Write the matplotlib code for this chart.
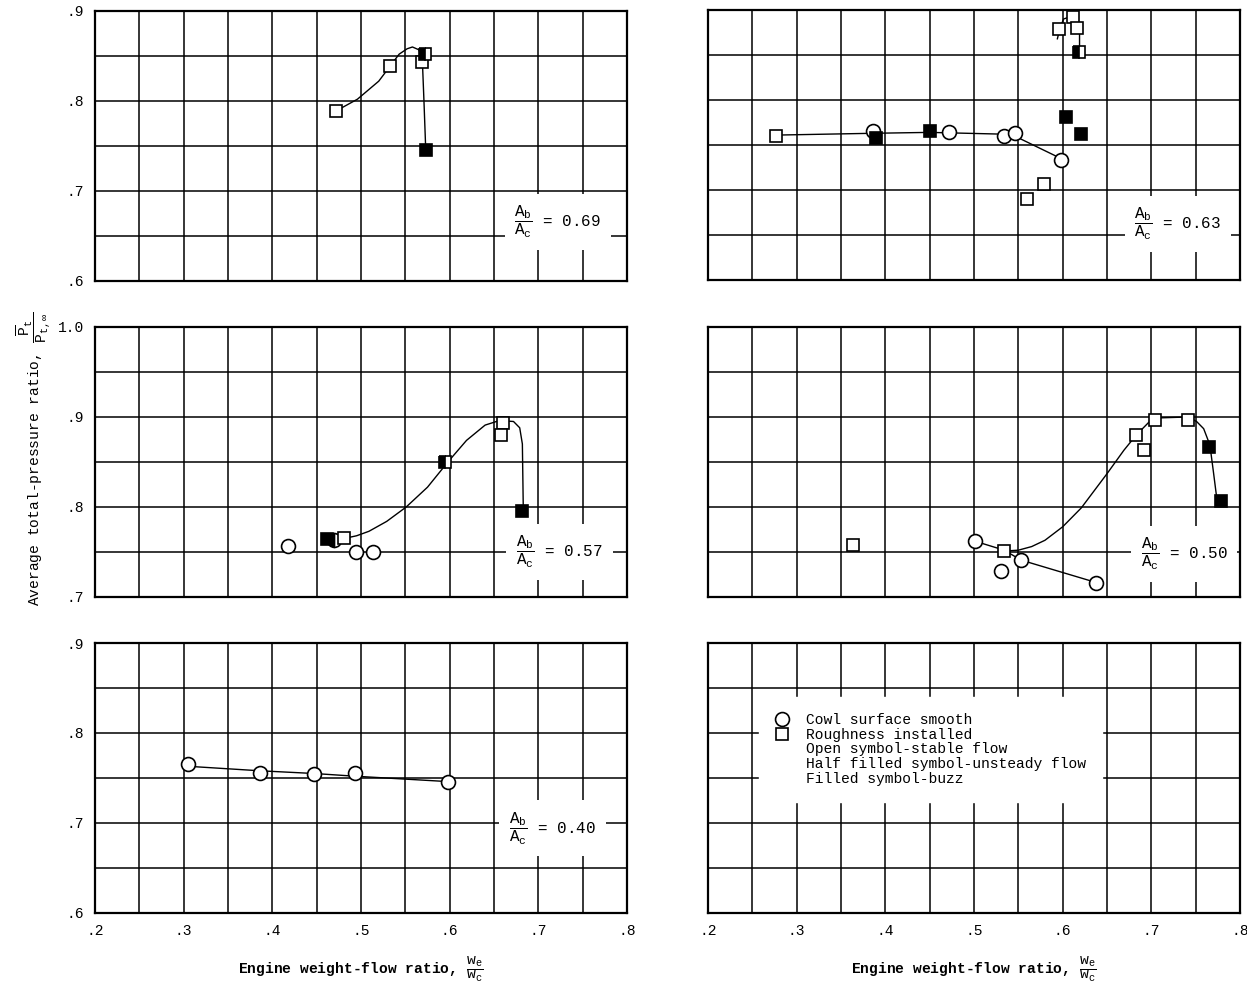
import matplotlib
matplotlib.use('Agg')
import matplotlib.pyplot as plt
from matplotlib.ticker import MultipleLocator, FuncFormatter
from matplotlib.lines import Line2D

plt.rcParams['font.family'] = ['Liberation Mono', 'DejaVu Sans Mono']
plt.rcParams['mathtext.fontset'] = 'custom'
plt.rcParams['mathtext.rm'] = 'Liberation Mono'
plt.rcParams['mathtext.it'] = 'Liberation Mono:italic'
plt.rcParams['mathtext.bf'] = 'Liberation Mono:bold'

# ---- data ----
# Ab/Ac = 0.69 (roughness only)
p69_sq_x = [0.472, 0.533, 0.569, 0.572, 0.573]
p69_sq_y = [0.789, 0.839, 0.843, 0.852, 0.746]
p69_sq_kind = ['open', 'open', 'open', 'half', 'filled']
p69_fair_x = [0.472, 0.496, 0.520, 0.533, 0.543, 0.552, 0.558, 0.565, 0.569, 0.571, 0.573]
p69_fair_y = [0.789, 0.802, 0.822, 0.839, 0.852, 0.858, 0.860, 0.857, 0.850, 0.800, 0.746]

# Ab/Ac = 0.63
p63_ci_x = [0.386, 0.472, 0.534, 0.546, 0.598]
p63_ci_y = [0.766, 0.764, 0.760, 0.763, 0.733]
p63_ci_kind = ['open', 'open', 'open', 'open', 'open']
p63_sq_x = [0.277, 0.389, 0.450, 0.560, 0.579, 0.596, 0.612, 0.616, 0.618, 0.604, 0.621]
p63_sq_y = [0.760, 0.758, 0.766, 0.690, 0.707, 0.879, 0.892, 0.880, 0.853, 0.781, 0.762]
p63_sq_kind = ['open', 'filled', 'filled', 'open', 'open', 'open', 'open', 'open',
               'half', 'filled', 'filled']
p63_fair_x = [0.277, 0.386, 0.450, 0.534, 0.552, 0.598]
p63_fair_y = [0.761, 0.763, 0.764, 0.762, 0.757, 0.735]
p63_top_x = [0.594, 0.597, 0.601, 0.610, 0.616, 0.619, 0.619]
p63_top_y = [0.868, 0.880, 0.890, 0.893, 0.885, 0.875, 0.855]

# Ab/Ac = 0.57
p57_ci_x = [0.418, 0.470, 0.494, 0.513]
p57_ci_y = [0.757, 0.763, 0.750, 0.750]
p57_ci_kind = ['open', 'half', 'open', 'open']
p57_sq_x = [0.462, 0.481, 0.595, 0.660, 0.658, 0.682]
p57_sq_y = [0.764, 0.765, 0.850, 0.893, 0.880, 0.796]
p57_sq_kind = ['filled', 'open', 'half', 'open', 'open', 'filled']
p57_fair_x = [0.481, 0.495, 0.509, 0.529, 0.551, 0.575, 0.598, 0.619, 0.640,
              0.656, 0.672, 0.679, 0.682, 0.683]
p57_fair_y = [0.765, 0.768, 0.773, 0.784, 0.800, 0.822, 0.850, 0.874, 0.891,
              0.896, 0.895, 0.888, 0.870, 0.800]

# Ab/Ac = 0.50
p50_ci_x = [0.501, 0.530, 0.553, 0.638]
p50_ci_y = [0.762, 0.729, 0.741, 0.715]
p50_ci_kind = ['open', 'open', 'open', 'open']
p50_sq_x = [0.364, 0.534, 0.683, 0.692, 0.704, 0.741, 0.765, 0.779]
p50_sq_y = [0.758, 0.751, 0.880, 0.863, 0.897, 0.897, 0.867, 0.807]
p50_sq_kind = ['open', 'open', 'open', 'open', 'open', 'open', 'filled', 'filled']
p50_ciline_x = [0.501, 0.534, 0.553, 0.638]
p50_ciline_y = [0.762, 0.752, 0.741, 0.716]
p50_fair_x = [0.534, 0.550, 0.565, 0.580, 0.600, 0.621, 0.650, 0.669, 0.683, 0.697,
              0.709, 0.741, 0.751, 0.759, 0.766, 0.770, 0.774]
p50_fair_y = [0.751, 0.752, 0.756, 0.763, 0.778, 0.799, 0.837, 0.863, 0.880, 0.894,
              0.899, 0.900, 0.895, 0.887, 0.869, 0.839, 0.808]

# Ab/Ac = 0.40 (smooth cowl only)
p40_ci_x = [0.305, 0.386, 0.447, 0.493, 0.598]
p40_ci_y = [0.765, 0.756, 0.754, 0.756, 0.745]
p40_ci_kind = ['open', 'open', 'open', 'open', 'open']
p40_fair_x = [0.305, 0.386, 0.447, 0.493, 0.598]
p40_fair_y = [0.763, 0.758, 0.755, 0.752, 0.746]

ratios = ['0.69', '0.63', '0.57', '0.50', '0.40']

legend_labels = ['Cowl surface smooth', 'Roughness installed',
                 'Open symbol-stable flow', 'Half filled symbol-unsteady flow',
                 'Filled symbol-buzz']

# marker fill per flow state
STYLE = {'open': dict(mfc='white'),
         'half': dict(mfc='black', mfcalt='white', fillstyle='left'),
         'filled': dict(mfc='black')}


def tick_fmt(v, pos):
    s = '%.1f' % v
    return s if v >= 0.999 else s[1:]


def setup(ax, ylo, show_x, show_y):
    """Grid paper look: grid every .05, labels every .1."""
    ax.set_xlim(0.2, 0.8)
    ax.set_ylim(ylo, ylo + 0.3)
    ax.xaxis.set_major_locator(MultipleLocator(0.1))
    ax.xaxis.set_minor_locator(MultipleLocator(0.05))
    ax.yaxis.set_major_locator(MultipleLocator(0.1))
    ax.yaxis.set_minor_locator(MultipleLocator(0.05))
    ax.xaxis.set_major_formatter(FuncFormatter(tick_fmt))
    ax.yaxis.set_major_formatter(FuncFormatter(tick_fmt))
    ax.grid(which='both', color='black', linewidth=1.1)
    ax.set_axisbelow(True)
    ax.tick_params(which='both', length=0, labelsize=10.5, pad=8,
                   labelbottom=show_x, labelleft=show_y)
    for spine in ax.spines.values():
        spine.set_linewidth(1.6)


def draw_points(ax, xs, ys, kinds, marker, ms):
    for x, y, k in zip(xs, ys, kinds):
        ax.plot([x], [y], ls='none', marker=marker, ms=ms, mec='black',
                mew=1.2, zorder=4, **STYLE[k])


def ratio_label(ax, x, y, ratio):
    ax.text(x, y, r'$\dfrac{\mathrm{A_b}}{\mathrm{A_c}}$ = ' + ratio,
            ha='center', va='center', fontsize=11.5, zorder=3,
            bbox=dict(facecolor='white', edgecolor='none', pad=7))


fig = plt.figure(figsize=(12.47, 9.9), dpi=100)
fig.patch.set_facecolor('white')

lx, rx, w, h = 0.0762, 0.5678, 0.4266, 0.2727
ax69 = fig.add_axes([lx, 0.7162, w, h])
ax63 = fig.add_axes([rx, 0.7172, w, h])
ax57 = fig.add_axes([lx, 0.3970, w, h])
ax50 = fig.add_axes([rx, 0.3970, w, h])
ax40 = fig.add_axes([lx, 0.0778, w, h])
axlg = fig.add_axes([rx, 0.0778, w, h])

setup(ax69, 0.6, False, True)
setup(ax63, 0.6, False, False)
setup(ax57, 0.7, False, True)
setup(ax50, 0.7, False, False)
setup(ax40, 0.6, True, True)
setup(axlg, 0.6, True, False)

# top left: 0.69
ax69.plot(p69_fair_x, p69_fair_y, color='black', lw=1.0, zorder=2)
draw_points(ax69, p69_sq_x, p69_sq_y, p69_sq_kind, 's', 9)
ratio_label(ax69, 0.722, 0.666, ratios[0])

# top right: 0.63
ax63.plot(p63_fair_x, p63_fair_y, color='black', lw=1.0, zorder=2)
ax63.plot(p63_top_x, p63_top_y, color='black', lw=1.0, zorder=2)
draw_points(ax63, p63_ci_x, p63_ci_y, p63_ci_kind, 'o', 10)
draw_points(ax63, p63_sq_x, p63_sq_y, p63_sq_kind, 's', 9)
ratio_label(ax63, 0.730, 0.662, ratios[1])

# middle left: 0.57
ax57.plot(p57_fair_x, p57_fair_y, color='black', lw=1.0, zorder=2)
draw_points(ax57, p57_ci_x, p57_ci_y, p57_ci_kind, 'o', 10)
draw_points(ax57, p57_sq_x, p57_sq_y, p57_sq_kind, 's', 9)
ratio_label(ax57, 0.724, 0.750, ratios[2])

# middle right: 0.50
ax50.plot(p50_ciline_x, p50_ciline_y, color='black', lw=1.0, zorder=2)
ax50.plot(p50_fair_x, p50_fair_y, color='black', lw=1.0, zorder=2)
draw_points(ax50, p50_ci_x, p50_ci_y, p50_ci_kind, 'o', 10)
draw_points(ax50, p50_sq_x, p50_sq_y, p50_sq_kind, 's', 9)
ratio_label(ax50, 0.737, 0.748, ratios[3])

# bottom left: 0.40
ax40.plot(p40_fair_x, p40_fair_y, color='black', lw=1.0, zorder=2)
draw_points(ax40, p40_ci_x, p40_ci_y, p40_ci_kind, 'o', 10)
ratio_label(ax40, 0.716, 0.694, ratios[4])

# bottom right: symbol key
handles = [Line2D([], [], ls='none', marker='o', ms=10, mfc='white', mec='black', mew=1.2),
           Line2D([], [], ls='none', marker='s', ms=9, mfc='white', mec='black', mew=1.2)]
handles += [Line2D([], [], ls='none') for _ in legend_labels[2:]]
leg = axlg.legend(handles, legend_labels, loc='upper left',
                  bbox_to_anchor=(0.096, 0.80), borderaxespad=0,
                  fontsize=10.5, labelspacing=0.05, handlelength=1.0,
                  handletextpad=1.1, borderpad=1.1, fancybox=False,
                  framealpha=1, facecolor='white', edgecolor='white')

# axis titles
xlab = r'Engine weight-flow ratio, $\dfrac{\mathrm{w_e}}{\mathrm{w_c}}$'
ax40.set_xlabel(xlab, fontsize=10.5, fontweight='bold', labelpad=12)
axlg.set_xlabel(xlab, fontsize=10.5, fontweight='bold', labelpad=12)
fig.text(0.027, 0.537,
         r'Average total-pressure ratio, $\dfrac{\overline{\mathrm{P}}_\mathrm{t}}'
         r'{\mathrm{P}_{\mathrm{t},\infty}}$',
         rotation=90, ha='center', va='center', fontsize=10.5)

fig.savefig('out.png', dpi=100, facecolor='white')
